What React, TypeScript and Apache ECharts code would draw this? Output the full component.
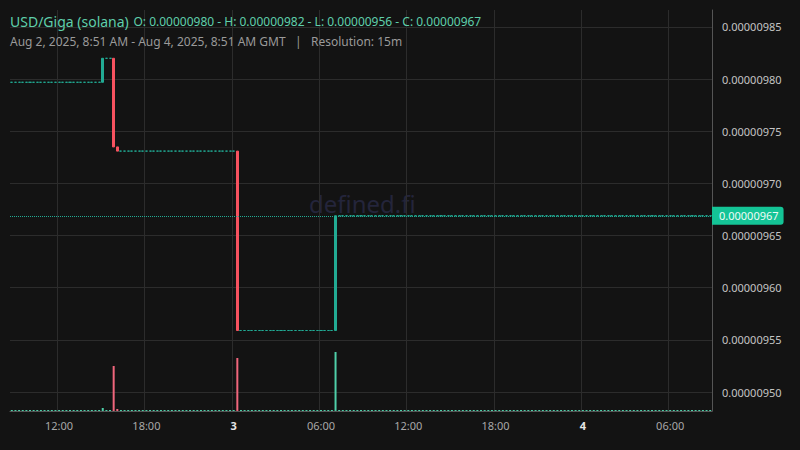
import { useEffect, useRef } from "react";
import * as echarts from "echarts";

// prices are in units of 1e-8 USD
const slotStart = Date.UTC(2025, 7, 2, 8, 45); // first 15m candle
const slotCount = 193; // Aug 2 08:45 -> Aug 4 08:45
const startPrice = 979.7;

// candles that actually traded (all other candles are flat at the last close)
const tradeSlots = [25, 28, 29, 62, 89];
const tradeOpen = [979.7, 982.0, 973.5, 973.1, 955.9];
const tradeHigh = [982.0, 982.0, 973.5, 973.1, 966.9];
const tradeLow = [979.7, 973.5, 973.1, 955.9, 955.9];
const tradeClose = [982.0, 973.5, 973.1, 955.9, 966.9];
const tradeVolume = [3, 45, 2, 53, 59];
const idleVolume = 1;

const priceTicks = [950, 955, 960, 965, 970, 975, 980, 985];

const UP = "#22ab94";
const DOWN = "#f7525f";
const UP_VOL = "#4fcfa9";
const DOWN_VOL = "#f0667c";
const BG = "#131313";
const FONT = "Noto Sans";

const fmt = (v: number) => (v / 1e8).toFixed(8);
const pad = (n: number) => String(n).padStart(2, "0");

const App = () => {
  const chartRef = useRef(null);

  useEffect(() => {
    document.body.style.margin = "0";
    const chart = echarts.init(chartRef.current, null, { renderer: "svg" });

    const slots: Date[] = [];
    for (let i = 0; i < slotCount; i++) slots.push(new Date(slotStart + i * 15 * 60000));
    const categories = slots.map(
      (d) => `${d.getUTCFullYear()}-${pad(d.getUTCMonth() + 1)}-${pad(d.getUTCDate())} ${pad(d.getUTCHours())}:${pad(d.getUTCMinutes())}`
    );

    const candles: number[][] = [];
    const volumes: any[] = [];
    let last = startPrice;
    for (let i = 0; i < slotCount; i++) {
      const t = tradeSlots.indexOf(i);
      if (t >= 0) {
        candles.push([tradeOpen[t], tradeClose[t], tradeLow[t], tradeHigh[t]]);
        volumes.push({
          value: tradeVolume[t],
          itemStyle: { color: tradeClose[t] >= tradeOpen[t] ? UP_VOL : DOWN_VOL },
        });
        last = tradeClose[t];
      } else {
        candles.push([last, last, last, last]);
        volumes.push({ value: idleVolume, itemStyle: { color: UP_VOL } });
      }
    }

    const firstOpen = tradeOpen[0];
    const hi = Math.max(...tradeHigh);
    const lo = Math.min(...tradeLow);
    const lastClose = tradeClose[tradeClose.length - 1];

    const showTick = (index: number) => {
      const d = slots[index];
      return d.getUTCMinutes() === 0 && d.getUTCHours() % 6 === 0;
    };

    const option: any = {
      animation: false,
      backgroundColor: BG,
      textStyle: { fontFamily: FONT },
      title: {
        left: 5,
        top: 7,
        itemGap: 5,
        text: `{a|USD/Giga (solana)} {b|O: ${fmt(firstOpen)} - H: ${fmt(hi)} - L: ${fmt(lo)} - C: ${fmt(lastClose)}}`,
        textStyle: {
          fontWeight: "normal",
          rich: {
            a: { fontSize: 14, color: "#5fcfab", fontFamily: FONT, fontWeight: "normal" },
            b: { fontSize: 12, color: "#5fcfab", fontFamily: FONT, fontWeight: "normal" },
          },
        },
        subtext: "Aug 2, 2025, 8:51 AM - Aug 4, 2025, 8:51 AM GMT   |   Resolution: 15m",
        subtextStyle: { fontSize: 12, color: "#9a9a9a", fontFamily: FONT },
      },
      graphic: [
        {
          type: "text",
          left: 309,
          top: 191,
          silent: true,
          z: 0,
          style: { text: "defined.fi", fontSize: 24, fill: "#24253b", fontFamily: FONT },
        },
      ],
      grid: [
        { left: 10, right: 88, top: 10, bottom: 39 },
        { left: 10, right: 88, top: 311, bottom: 39 },
      ],
      xAxis: [
        {
          type: "category",
          data: categories,
          boundaryGap: true,
          axisLine: { show: true, lineStyle: { color: "#555" } },
          axisTick: { show: false },
          axisLabel: {
            interval: (index: number) => showTick(index),
            margin: 9,
            fontSize: 11,
            color: "#a8a8a8",
            fontFamily: FONT,
            formatter: (value: string, index: number) => {
              const d = slots[index];
              if (d.getUTCHours() === 0) return `{day|${d.getUTCDate()}}`;
              return value.slice(11);
            },
            rich: { day: { fontWeight: "bold", color: "#e6e6e6", fontSize: 11, fontFamily: FONT } },
          },
          splitLine: {
            show: true,
            interval: (index: number) => showTick(index),
            lineStyle: { color: "#2c2c2c" },
          },
        },
        {
          type: "category",
          gridIndex: 1,
          data: categories,
          boundaryGap: true,
          show: false,
        },
      ],
      yAxis: [
        {
          type: "value",
          position: "right",
          min: 948.18,
          max: 986.63,
          axisLine: { show: true, lineStyle: { color: "#555" } },
          axisTick: { show: false, customValues: priceTicks },
          axisLabel: {
            customValues: priceTicks,
            margin: 10,
            fontSize: 11,
            color: "#c4c4c4",
            fontFamily: FONT,
            formatter: (v: number) => fmt(v),
          },
          splitLine: { show: true, lineStyle: { color: "#2c2c2c" } },
        },
        {
          type: "value",
          gridIndex: 1,
          min: 0,
          max: 100,
          show: false,
        },
      ],
      series: [
        {
          name: "USD/Giga",
          type: "candlestick",
          data: candles,
          barWidth: "70%",
          itemStyle: {
            color: UP,
            color0: DOWN,
            borderColor: UP,
            borderColor0: DOWN,
            borderWidth: 1,
          },
          markLine: {
            silent: true,
            symbol: ["none", "none"],
            data: [{ yAxis: lastClose }],
            lineStyle: { color: UP, type: "dotted", width: 1 },
            label: {
              position: "end",
              distance: 0,
              formatter: () => fmt(lastClose),
              backgroundColor: "#14c496",
              color: "#eefcf7",
              fontSize: 11,
              fontFamily: FONT,
              padding: [4, 5, 3, 7],
              borderRadius: [0, 3, 3, 0],
            },
          },
        },
        {
          name: "Volume",
          type: "bar",
          xAxisIndex: 1,
          yAxisIndex: 1,
          data: volumes,
          barWidth: "55%",
        },
      ],
    };

    chart.setOption(option);

    return () => {
      chart.dispose();
    };
  }, []);

  return (
    <div
      ref={chartRef}
      style={{ position: "absolute", left: 0, top: 0, width: "800px", height: "450px" }}
    />
  );
};

export default App;
